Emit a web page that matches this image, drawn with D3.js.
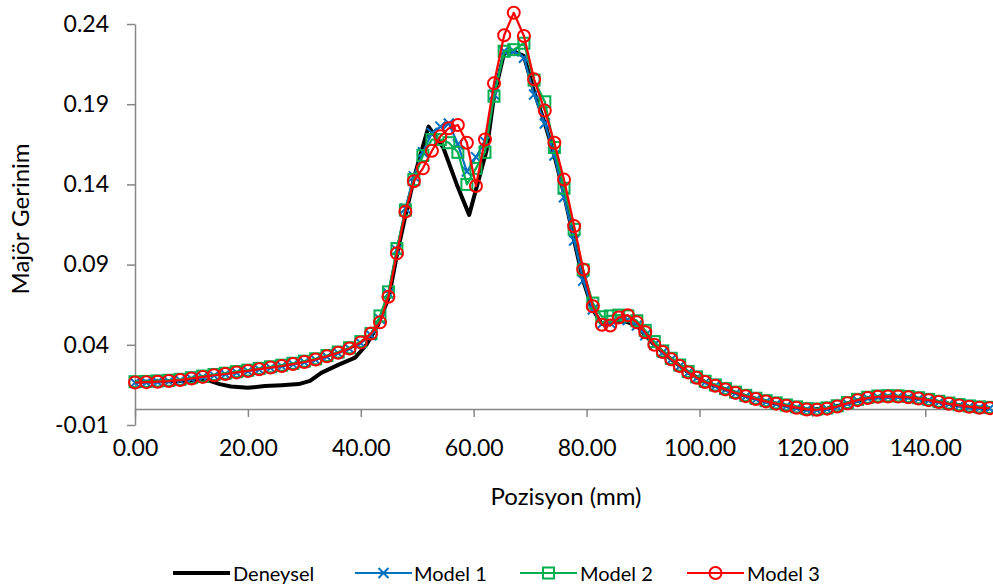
<!DOCTYPE html>
<html>
<head>
<meta charset="utf-8">
<script src="https://cdn.jsdelivr.net/npm/d3@7"></script>
<style>
  html, body { margin: 0; padding: 0; background: #fff; }
  svg text { font-family: Lato, "Open Sans", sans-serif; fill: #000; }
</style>
</head>
<body>
<svg id="chart" width="993" height="587"></svg>
<script>
// ---------------- DATA ----------------
const seriesNames = ["Deneysel", "Model 1", "Model 2", "Model 3"];

const xTicks = [0, 20, 40, 60, 80, 100, 120, 140];
const yTicks = [-0.01, 0.04, 0.09, 0.14, 0.19, 0.24];

// Experimental (Deneysel) positions and values
const expX = [0, 5, 10, 13, 15, 17, 20, 23, 26, 29, 31, 33, 36, 39, 41, 43, 45, 46.5, 48, 49.5,
  52.0, 54.6, 57.0, 59.2, 62.3, 63.6, 65.4, 67.1, 68.9, 70.7, 72.6, 74.3, 76.0, 77.8, 79.4, 81.1,
  82.7, 84.5, 86.5, 88.9, 90.4, 92.0, 95.0, 98.0, 101.0, 104.6, 108.2, 111.8, 115.4, 119.0,
  122.6, 126.2, 129.8, 133.4, 137.0, 140.6, 144.2, 147.8, 151.4];
const expY = [0.0168, 0.0172, 0.0176, 0.0178, 0.0155, 0.0140, 0.0132, 0.0143, 0.0148, 0.0155,
  0.0175, 0.0225, 0.0275, 0.0320, 0.0400, 0.0520, 0.0700, 0.0980, 0.1220, 0.1450,
  0.1760, 0.1630, 0.1400, 0.1210, 0.1615, 0.1950, 0.2220, 0.2230, 0.2200, 0.1980, 0.1780, 0.1580,
  0.1340, 0.1050, 0.0800, 0.0620, 0.0530, 0.0540, 0.0550, 0.0520, 0.0460, 0.0400, 0.0310, 0.0228,
  0.0168, 0.0122, 0.0080, 0.0047, 0.0020, -0.0003, 0.0002, 0.0035, 0.0068, 0.0078, 0.0073,
  0.0055, 0.0032, 0.0014, 0.0005];

// Model positions (shared)
const modelX = [0, 2, 4, 6, 8, 10, 12, 14, 16, 18, 20, 22, 24, 26, 28, 30, 32, 34, 36, 38, 40,
  41.8, 43.4, 44.9, 46.4, 47.9, 49.4, 51.0, 52.6, 54.1, 55.6, 57.2, 58.8, 60.4, 62.0, 63.6, 65.4,
  67.1, 68.9, 70.7, 72.6, 74.3, 76.0, 77.8, 79.4, 81.1, 82.7, 84.2, 85.7, 87.3, 88.9, 90.4, 92.0,
  93.5, 95.0, 96.5, 98.0, 99.5, 101.0, 102.8, 104.6, 106.4, 108.2, 110.0, 111.8, 113.6, 115.4,
  117.2, 119.0, 120.8, 122.6, 124.4, 126.2, 128.0, 129.8, 131.6, 133.4, 135.2, 137.0, 138.8,
  140.6, 142.4, 144.2, 146.0, 147.8, 149.6, 151.4];

const model1Y = [0.0163, 0.0165, 0.0168, 0.0172, 0.0178, 0.0188, 0.0198, 0.0208, 0.0216, 0.0226,
  0.0235, 0.0246, 0.0256, 0.0266, 0.0278, 0.0291, 0.0306, 0.0326, 0.0348, 0.0375, 0.0410,
  0.0460, 0.0560, 0.0720, 0.0990, 0.1250, 0.1450, 0.1600, 0.1720, 0.1760, 0.1780, 0.1650, 0.1480,
  0.1570, 0.1667, 0.1960, 0.2230, 0.2230, 0.2190, 0.1960, 0.1780, 0.1580, 0.1320, 0.1050, 0.0800,
  0.0620, 0.0530, 0.0535, 0.0560, 0.0555, 0.0520, 0.0460, 0.0400,
  0.0352, 0.0308, 0.0266, 0.0226, 0.0193, 0.0166, 0.0143, 0.0120, 0.0098, 0.0078, 0.0060,
  0.0045, 0.0031, 0.0018, 0.0006, -0.0005, -0.0007, 0.0000, 0.0013, 0.0033, 0.0053, 0.0066,
  0.0074, 0.0076, 0.0075, 0.0071, 0.0063, 0.0053, 0.0041, 0.0030, 0.0020, 0.0012, 0.0006, 0.0003];

const model2Y = [0.0170, 0.0172, 0.0175, 0.0179, 0.0185, 0.0195, 0.0205, 0.0215, 0.0223, 0.0233,
  0.0242, 0.0253, 0.0263, 0.0273, 0.0285, 0.0298, 0.0313, 0.0333, 0.0355, 0.0382, 0.0420,
  0.0470, 0.0580, 0.0730, 0.1000, 0.1240, 0.1430, 0.1580, 0.1680, 0.1680, 0.1660, 0.1600, 0.1400,
  0.1500, 0.1600, 0.1950, 0.2230, 0.2240, 0.2280, 0.2050, 0.1915, 0.1630, 0.1376, 0.1120, 0.0867,
  0.0660, 0.0575, 0.0580, 0.0585, 0.0580, 0.0550, 0.0490, 0.0420,
  0.0362, 0.0316, 0.0274, 0.0234, 0.0200, 0.0173, 0.0150, 0.0127, 0.0105, 0.0085, 0.0067,
  0.0052, 0.0038, 0.0025, 0.0013, 0.0002, 0.0000, 0.0007, 0.0020, 0.0040, 0.0060, 0.0073,
  0.0081, 0.0083, 0.0082, 0.0078, 0.0070, 0.0060, 0.0048, 0.0037, 0.0027, 0.0019, 0.0013, 0.0010];

const model3Y = [0.0165, 0.0167, 0.0170, 0.0174, 0.0180, 0.0190, 0.0200, 0.0210, 0.0218, 0.0228,
  0.0237, 0.0248, 0.0258, 0.0268, 0.0280, 0.0293, 0.0308, 0.0328, 0.0350, 0.0377, 0.0415,
  0.0470, 0.0540, 0.0700, 0.0970, 0.1230, 0.1420, 0.1500, 0.1610, 0.1700, 0.1750, 0.1770, 0.1660,
  0.1390, 0.1680, 0.2030, 0.2330, 0.2470, 0.2325, 0.2055, 0.1860, 0.1660, 0.1430, 0.1140, 0.0870,
  0.0640, 0.0525, 0.0520, 0.0570, 0.0585, 0.0540, 0.0478, 0.0400,
  0.0355, 0.0310, 0.0268, 0.0228, 0.0195, 0.0168, 0.0145, 0.0122, 0.0100, 0.0080, 0.0062,
  0.0047, 0.0033, 0.0020, 0.0008, -0.0003, -0.0005, 0.0002, 0.0015, 0.0035, 0.0055, 0.0068,
  0.0076, 0.0078, 0.0077, 0.0073, 0.0065, 0.0055, 0.0043, 0.0032, 0.0022, 0.0014, 0.0008, 0.0005];

const colors = ["#000000", "#0070C0", "#00B050", "#FF0000"];

// ---------------- CHART ----------------
const svg = d3.select("#chart");
const x = d3.scaleLinear().domain([0, 152]).range([135, 993]);
const y = d3.scaleLinear().domain([-0.01, 0.24]).range([425, 24]);
const gridColor = "#868686";
const fmt = d => d.toFixed(2);

// Y axis
const yAxis = svg.append("g").attr("transform", `translate(${x(0)},0)`)
  .call(d3.axisLeft(y).tickValues(yTicks).tickFormat(fmt).tickSizeInner(8).tickSizeOuter(0));
yAxis.select(".domain").attr("stroke", gridColor).attr("stroke-width", 1.5);
yAxis.selectAll(".tick line").attr("stroke", gridColor).attr("stroke-width", 1.5);
yAxis.selectAll(".tick text").attr("x", -26).style("font-size", "23px")
  .style("font-family", "Lato, sans-serif").attr("fill", "#000");

// X axis (crosses at y = 0), labels at bottom of plot
const xAxis = svg.append("g").attr("transform", `translate(0,${y(0)})`)
  .call(d3.axisBottom(x).tickValues(xTicks).tickFormat(fmt).tickSizeInner(8).tickSizeOuter(0));
xAxis.select(".domain").attr("stroke", gridColor).attr("stroke-width", 1.5);
xAxis.selectAll(".tick line").attr("stroke", gridColor).attr("stroke-width", 1.5);
xAxis.selectAll(".tick text").attr("y", y(-0.01) - y(0) + 15).style("font-size", "23px")
  .style("font-family", "Lato, sans-serif").attr("fill", "#000");

// Axis titles
svg.append("text").attr("x", 566).attr("y", 505).attr("text-anchor", "middle")
  .style("font-size", "24px").text("Pozisyon (mm)");
svg.append("text").attr("transform", "translate(29,219) rotate(-90)").attr("text-anchor", "middle")
  .style("font-size", "24px").text("Majör Gerinim");

const line = d3.line().x(d => x(d[0])).y(d => y(d[1]));
const plot = svg.append("g");

// Deneysel
const expData = expX.map((v, i) => [v, expY[i]]);
plot.append("path").datum(expData).attr("d", line).attr("fill", "none")
  .attr("stroke", colors[0]).attr("stroke-width", 4).attr("stroke-linejoin", "round");

const models = [model1Y, model2Y, model3Y];
const markerTypes = ["x", "square", "circle"];

function drawMarker(g, type, color) {
  if (type === "x") {
    g.append("path").attr("d", "M-5,-5L5,5M-5,5L5,-5").attr("stroke", color)
      .attr("stroke-width", 2).attr("fill", "none");
  } else if (type === "square") {
    g.append("rect").attr("x", -5.5).attr("y", -5.5).attr("width", 11).attr("height", 11)
      .attr("stroke", color).attr("stroke-width", 2).attr("fill", "none");
  } else {
    g.append("circle").attr("r", 6).attr("stroke", color).attr("stroke-width", 2).attr("fill", "none");
  }
}

models.forEach((vals, k) => {
  const data = modelX.map((v, i) => [v, vals[i]]);
  const g = plot.append("g");
  g.append("path").datum(data).attr("d", line).attr("fill", "none")
    .attr("stroke", colors[k + 1]).attr("stroke-width", 2.2).attr("stroke-linejoin", "round");
  data.forEach(d => {
    const m = g.append("g").attr("transform", `translate(${x(d[0])},${y(d[1])})`);
    drawMarker(m, markerTypes[k], colors[k + 1]);
  });
});

// Legend
const legendItems = [
  { lx: 173, tx: 233 },
  { lx: 355, tx: 414 },
  { lx: 520, tx: 580 },
  { lx: 687, tx: 747 }
];
const ly = 573;
seriesNames.forEach((name, k) => {
  const it = legendItems[k];
  const g = svg.append("g");
  g.append("line").attr("x1", it.lx).attr("x2", it.lx + 57).attr("y1", ly).attr("y2", ly)
    .attr("stroke", colors[k]).attr("stroke-width", k === 0 ? 4 : 2.2);
  if (k > 0) {
    const m = g.append("g").attr("transform", `translate(${it.lx + 28.5},${ly})`);
    drawMarker(m, markerTypes[k - 1], colors[k]);
  }
  g.append("text").attr("x", it.tx).attr("y", ly + 8).style("font-size", "20px").text(name);
});
</script>
</body>
</html>
